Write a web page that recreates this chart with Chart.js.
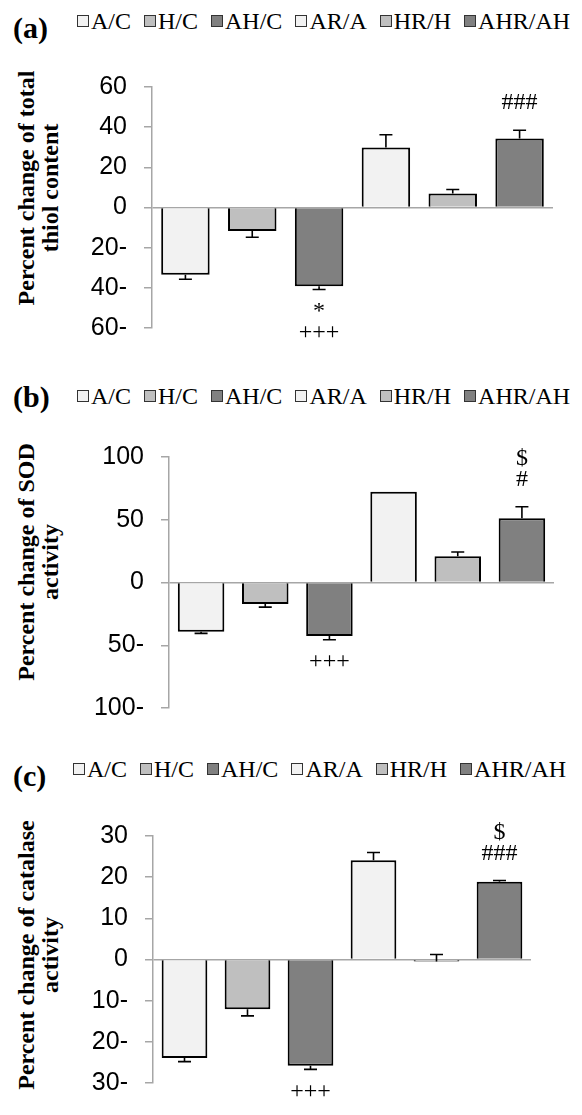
<!DOCTYPE html>
<html>
<head>
<meta charset="utf-8">
<script src="https://cdn.jsdelivr.net/npm/chart.js@4.4.1/dist/chart.umd.min.js"></script>
<style>
  body { margin: 0; background: #fff; }
  #page { position: relative; width: 582px; height: 1115px; overflow: hidden; font-family: "Liberation Serif", "Times New Roman", serif; color: #000; }
  canvas { position: absolute; left: 0; }
  .tag { position: absolute; font-weight: bold; font-size: 30px; line-height: 30px; }
  .legend { position: absolute; font-size: 24px; line-height: 24px; white-space: nowrap; display: flex; align-items: center; }
  .legend .item { display: flex; align-items: center; margin-right: 13px; }
  .legend .item:last-child { margin-right: 0; }
  .legend .box { width: 10px; height: 10px; border: 1px solid #333; margin-right: 2px; }
  .ytitle { position: absolute; width: 320px; height: 48px; font-weight: bold; font-size: 24px; line-height: 24px; text-align: center; white-space: nowrap; transform: rotate(-90deg); }
</style>
</head>
<body>
<div id="page">
  <div class="tag" style="left:13px;top:13px;">(a)</div>
  <div class="legend" id="legendA" style="left:77px;top:9px;"></div>
  <div class="ytitle" style="left:-122px;top:164px;">Percent change of total<br>thiol content</div>
  <canvas id="chartA" width="582" height="360" style="top:0px;"></canvas>

  <div class="tag" style="left:13px;top:382px;">(b)</div>
  <div class="legend" id="legendB" style="left:77px;top:384px;"></div>
  <div class="ytitle" style="left:-122px;top:538px;">Percent change of SOD<br>activity</div>
  <canvas id="chartB" width="582" height="370" style="top:370px;"></canvas>

  <div class="tag" style="left:13px;top:761px;">(c)</div>
  <div class="legend" id="legendC" style="left:73px;top:757px;"></div>
  <div class="ytitle" style="left:-122px;top:931px;">Percent change of catalase<br>activity</div>
  <canvas id="chartC" width="582" height="375" style="top:740px;"></canvas>
</div>
<script>
const groups = ["A/C", "H/C", "AH/C", "AR/A", "HR/H", "AHR/AH"];
const barColors = ["#f2f2f2", "#bfbfbf", "#808080", "#f2f2f2", "#bfbfbf", "#808080"];

// (a) total thiol content
const thiolValues = [-33.5, -11.7, -39.2, 29.9, 7.0, 34.3];
const thiolErrors = [-2.2, -3.1, -1.6, 6.3, 2.0, 4.2];
const thiolMarks = ["", "", "*\n+++", "", "", "###"];

// (b) SOD activity
const sodValues = [-39.3, -17.1, -42.6, 72.3, 21.0, 51.1];
const sodErrors = [-1.2, -2.5, -3.0, 0, 3.3, 9.2];
const sodMarks = ["", "", "+++", "", "", "$\n#"];

// (c) catalase activity
const catalaseValues = [-23.9, -12.1, -25.8, 24.1, -0.5, 18.9];
const catalaseErrors = [-0.9, -1.6, -0.9, 1.9, 1.7, 0.3];
const catalaseMarks = ["", "", "+++", "", "", "$\n###"];

function buildLegend(id) {
    const el = document.getElementById(id);
    for (let i = 0; i < groups.length; i++) {
        const item = document.createElement("span");
        item.className = "item";
        const box = document.createElement("span");
        box.className = "box";
        box.style.background = barColors[i];
        item.appendChild(box);
        item.appendChild(document.createTextNode(groups[i]));
        el.appendChild(item);
    }
}

// error bars + significance marks
const extrasPlugin = {
    id: "extras",
    afterDatasetsDraw(chart) {
        const ctx = chart.ctx;
        const y = chart.scales.y;
        const meta = chart.getDatasetMeta(0);
        const ds = chart.data.datasets[0];
        ctx.save();
        ctx.strokeStyle = "#000";
        ctx.lineWidth = 1.6;
        for (let i = 0; i < ds.data.length; i++) {
            const x = meta.data[i].x;
            const y0 = y.getPixelForValue(ds.data[i]);
            const y1 = y.getPixelForValue(ds.data[i] + ds.errors[i]);
            if (ds.errors[i] != 0) {
                ctx.beginPath();
                ctx.moveTo(x, y0);
                ctx.lineTo(x, y1);
                ctx.moveTo(x - 6.5, y1);
                ctx.lineTo(x + 6.5, y1);
                ctx.stroke();
            }
            if (ds.marks[i]) {
                const lines = ds.marks[i].split("\n");
                ctx.fillStyle = "#000";
                ctx.font = "24px 'Liberation Serif'";
                ctx.textAlign = "center";
                ctx.textBaseline = "middle";
                const tip = Math.min(y0, y1);
                const low = Math.max(y0, y1);
                for (let j = 0; j < lines.length; j++) {
                    if (ds.data[i] >= 0) {
                        ctx.fillText(lines[j], x, tip - 27 - (lines.length - 1 - j) * 21);
                    } else {
                        ctx.fillText(lines[j], x, low + 22 + j * 21);
                    }
                }
            }
        }
        ctx.restore();
    }
};

function drawPanel(canvasId, values, errors, marks, yMin, yMax, step, axisWidth, pad) {
    const ctx = document.getElementById(canvasId).getContext("2d");
    return new Chart(ctx, {
        type: "bar",
        data: {
            labels: groups,
            datasets: [{
                data: values,
                errors: errors,
                marks: marks,
                backgroundColor: barColors,
                borderColor: "#000",
                borderWidth: 2,
                barPercentage: 0.725,
                categoryPercentage: 1.0
            }]
        },
        options: {
            responsive: false,
            animation: false,
            devicePixelRatio: 1,
            layout: { padding: pad },
            plugins: {
                legend: { display: false },
                tooltip: { enabled: false }
            },
            scales: {
                x: { display: false },
                y: {
                    min: yMin,
                    max: yMax,
                    afterFit: function(scale) { scale.width = axisWidth; },
                    ticks: {
                        stepSize: step,
                        color: "#000",
                        padding: 17,
                        font: { family: "'Liberation Sans', Arial, sans-serif", size: 25 },
                        callback: function(v) { return v < 0 ? Math.abs(v) + "-" : String(v); }
                    },
                    grid: {
                        color: function(c) { return c.tick && c.tick.value === 0 ? "#a6a6a6" : "rgba(0,0,0,0)"; },
                        tickColor: "#a6a6a6",
                        tickLength: 8,
                        lineWidth: 1.5
                    },
                    border: { display: true, color: "#a6a6a6", width: 1.5 }
                }
            }
        },
        plugins: [extrasPlugin]
    });
}

buildLegend("legendA");
buildLegend("legendB");
buildLegend("legendC");

drawPanel("chartA", thiolValues, thiolErrors, thiolMarks, -60, 60, 20, 152, { top: 87, bottom: 20, left: 0, right: 29 });
drawPanel("chartB", sodValues, sodErrors, sodMarks, -100, 100, 50, 169, { top: 87, bottom: 22, left: 0, right: 28 });
drawPanel("chartC", catalaseValues, catalaseErrors, catalaseMarks, -30, 30, 10, 153, { top: 96, bottom: 18, left: 0, right: 51 });
</script>
</body>
</html>
